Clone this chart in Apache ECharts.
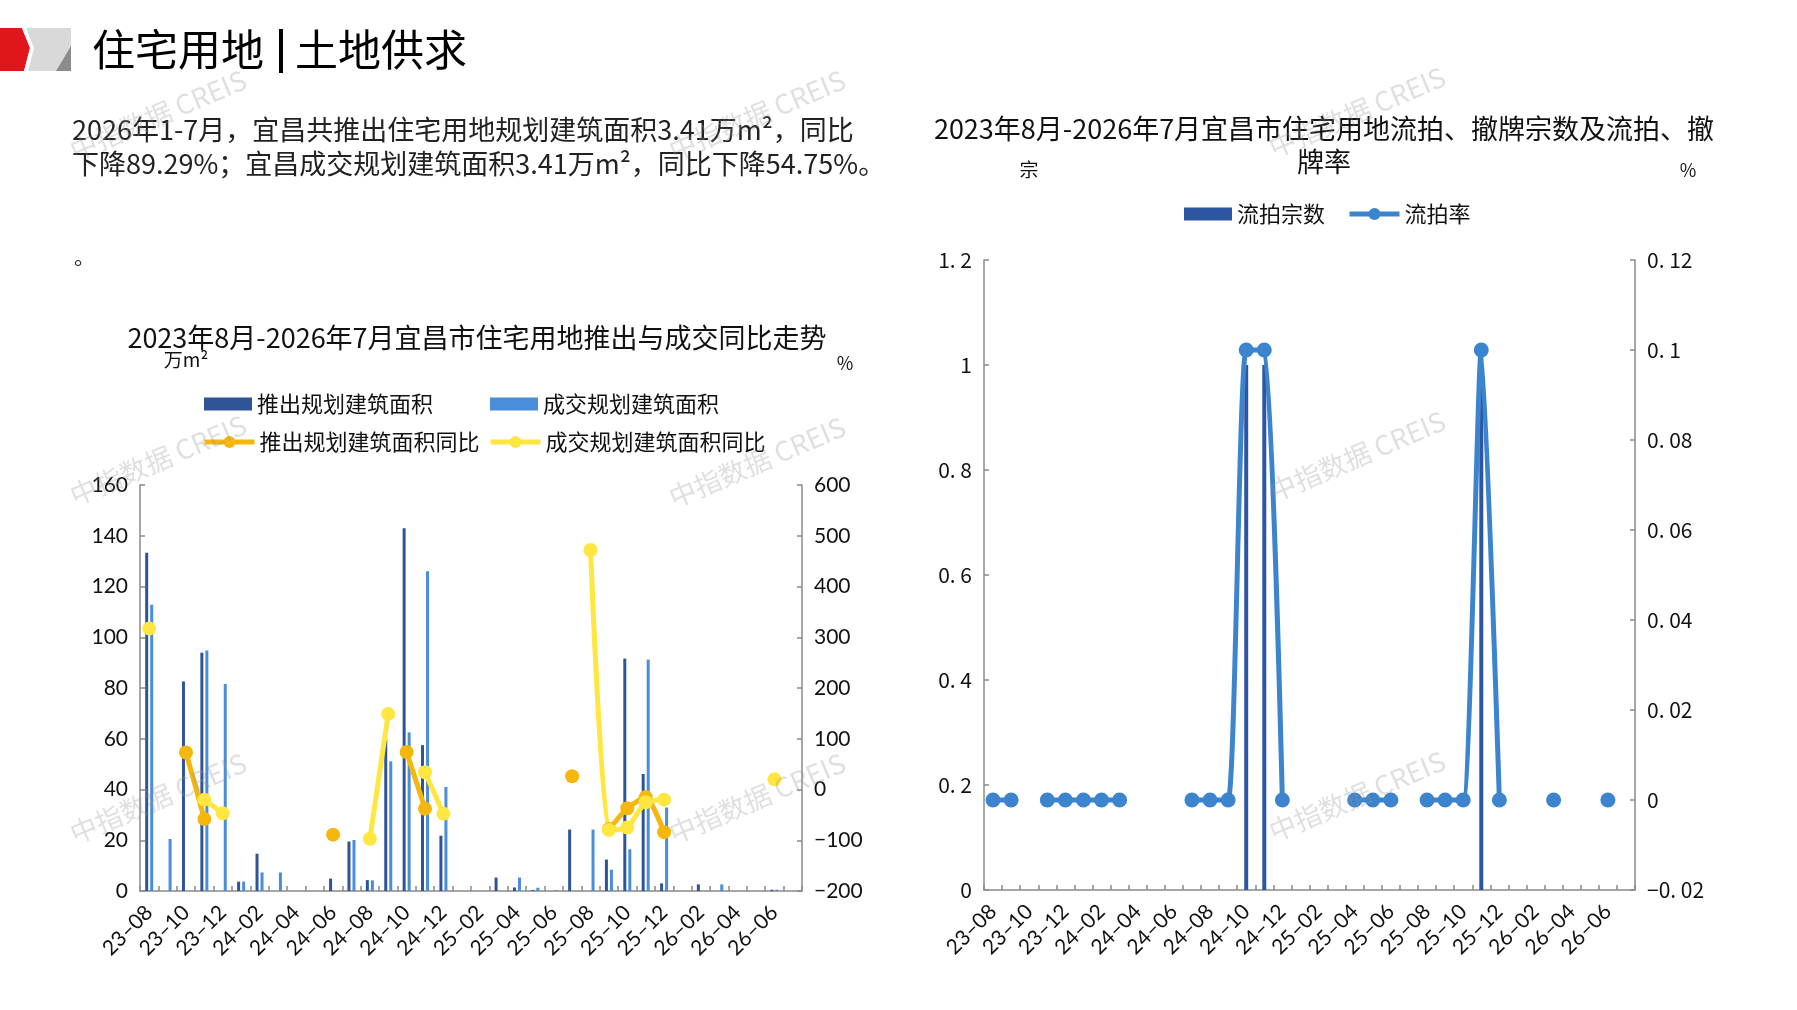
<!DOCTYPE html>
<html>
<head>
<meta charset="utf-8">
<script src="https://cdn.jsdelivr.net/npm/echarts@6/dist/echarts.min.js"></script>
<style>
html,body{margin:0;padding:0;background:#fff;}
#main{width:1797px;height:1010px;}
</style>
</head>
<body>
<div id="main"></div>
<script>
// ---------- data ----------
const categories = ['23-08','23-09','23-10','23-11','23-12','24-01','24-02','24-03','24-04','24-05','24-06','24-07',
  '24-08','24-09','24-10','24-11','24-12','25-01','25-02','25-03','25-04','25-05','25-06','25-07',
  '25-08','25-09','25-10','25-11','25-12','26-01','26-02','26-03','26-04','26-05','26-06','26-07'];

// 推出规划建筑面积 (万㎡)
const launchArea = [133.3, null, 82.6, 93.9, null, 3.7, 14.7, null, null, null, 4.9, 19.5,
  4.3, 60, 143, 57.5, 21.8, null, null, 5.3, 1.4, 0.4, null, 24.2,
  null, 12.4, 91.6, 46.1, 3.0, null, 2.6, null, null, null, 0.5, null];
// 成交规划建筑面积 (万㎡)
const dealArea = [112.8, 20.5, null, 94.8, 81.6, 3.7, 7.3, 7.3, null, null, null, 20.1,
  4.2, 51.1, 62.5, 126, 41, null, null, null, 5.3, 1.3, 0.4, null,
  24.2, 8.4, 16.4, 91.2, 32.9, null, null, 2.6, null, null, 0.5, null];
// 推出规划建筑面积同比 (%)
const launchYoY = [null, null, 73, -58, null, null, null, null, null, null, -89, null,
  null, null, 74, -38, null, null, null, null, null, null, null, 26,
  null, -78, -37, -15, -84, null, null, null, null, null, null, null];
// 成交规划建筑面积同比 (%)
const dealYoY = [317, null, null, -20, -47, null, null, null, null, null, null, null,
  -97, 149, null, 34, -48, null, null, null, null, null, null, null,
  472, -80, -75, -25, -20, null, null, null, null, null, 20, null];
// 流拍宗数 (宗)
const failCount = [null, null, null, null, null, null, null, null, null, null, null, null,
  null, null, 1, 1, null, null, null, null, null, null, null, null,
  null, null, null, 1, null, null, null, null, null, null, null, null];
// 流拍率 (%)
const failRate = [0, 0, null, 0, 0, 0, 0, 0, null, null, null, 0,
  0, 0, 0.1, 0.1, 0, null, null, null, 0, 0, 0, null,
  0, 0, 0, 0.1, 0, null, null, 0, null, null, 0, null];

// axis ranges (tick labels)
const areaAxis = {min: 0, max: 160, interval: 20};
const yoyAxis = {min: -200, max: 600, interval: 100};
const countAxis = {min: 0, max: 1.2, interval: 0.2};
const rateAxis = {min: -0.02, max: 0.12, interval: 0.02};

const paragraphLines = [
  '2026年1-7月，宜昌共推出住宅用地规划建筑面积3.41万m²，同比',
  '下降89.29%；宜昌成交规划建筑面积3.41万m²，同比下降54.75%。'
];

// ---------- chart ----------
const chart = echarts.init(document.getElementById('main'));
const CJK = '"Noto Sans CJK SC", "Noto Sans", sans-serif';
const NUM = 'Lato, "Noto Sans", sans-serif';
const axisGray = '#8a8a8a';

function minusFmt(v){ return String(v).replace('-', '−'); }
function decFmt(v){ let s = String(+(+v).toFixed(4)); return s.replace('-', '−').replace('.', '. '); }

const watermarkPos = [[158,115],[757,115],[1357,112],[158,460],[757,462],[1357,456],[158,798],[757,798],[1357,796]];
const watermarks = watermarkPos.map(p => ({
  type: 'text', x: p[0], y: p[1], rotation: 23 * Math.PI / 180, z: 100, silent: true,
  style: {text: '中指数据 CREIS', fill: 'rgba(150,150,150,0.30)', font: '27px ' + CJK, align: 'center', verticalAlign: 'middle'}
}));

function xAxisCommon(gridIndex){
  return {
    type: 'category', gridIndex: gridIndex, data: categories, boundaryGap: true,
    axisLine: {lineStyle: {color: axisGray, width: 1.5}},
    axisTick: {show: true, inside: true, length: 5, interval: 0, lineStyle: {color: axisGray, width: 1.5}},
    axisLabel: {interval: 1, rotate: 45, fontSize: 21, color: '#111', fontFamily: NUM, margin: 18,
      formatter: v => v.replace('-', '–')},
    splitLine: {show: false}
  };
}
function yAxisCommon(gridIndex, cfg, pos, fmt, font){
  return {
    type: 'value', gridIndex: gridIndex, position: pos, min: cfg.min, max: cfg.max, interval: cfg.interval,
    axisLine: {show: true, lineStyle: {color: axisGray, width: 1.5}},
    axisTick: {show: true, inside: true, length: 5, lineStyle: {color: axisGray, width: 1.5}},
    axisLabel: {fontSize: 21, color: '#111', fontFamily: font || NUM, formatter: fmt, margin: 12},
    splitLine: {show: false}
  };
}
const legendText = {fontSize: 22, color: '#111', fontFamily: CJK};
const lineLegend = (name, left, top) => ({
  data: [name], left: left, top: top, itemWidth: 50, itemHeight: 15,
  lineStyle: {width: 5}, textStyle: legendText
});

const option = {
  backgroundColor: '#fff',
  animation: false,
  textStyle: {fontFamily: CJK},
  title: [
    {text: '2023年8月-2026年7月宜昌市住宅用地推出与成交同比走势', left: 472, top: 317, textAlign: 'center',
      textStyle: {fontSize: 27, fontWeight: 'normal', color: '#111', fontFamily: CJK, lineHeight: 32}},
    {text: '2023年8月-2026年7月宜昌市住宅用地流拍、撤牌宗数及流拍、撤\n牌率', left: 1319, top: 107, textAlign: 'center',
      textStyle: {fontSize: 27, fontWeight: 'normal', color: '#111', fontFamily: CJK, lineHeight: 33}}
  ],
  legend: [
    {data: ['推出规划建筑面积'], left: 199, top: 388, icon: 'rect', itemWidth: 48, itemHeight: 13, textStyle: legendText},
    {data: ['成交规划建筑面积'], left: 485, top: 388, icon: 'rect', itemWidth: 48, itemHeight: 13, textStyle: legendText},
    lineLegend('推出规划建筑面积同比', 197, 426),
    lineLegend('成交规划建筑面积同比', 483, 426),
    {data: ['流拍宗数'], left: 1179, top: 198, icon: 'rect', itemWidth: 48, itemHeight: 13, textStyle: legendText},
    lineLegend('流拍率', 1342, 198)
  ],
  grid: [
    {left: 140, right: 995, top: 485, bottom: 119},
    {left: 984, right: 162, top: 260, bottom: 120}
  ],
  xAxis: [xAxisCommon(0), xAxisCommon(1)],
  yAxis: [
    yAxisCommon(0, areaAxis, 'left', minusFmt),
    yAxisCommon(0, yoyAxis, 'right', minusFmt),
    yAxisCommon(1, countAxis, 'left', decFmt, CJK),
    yAxisCommon(1, rateAxis, 'right', decFmt, CJK)
  ],
  series: [
    {name: '推出规划建筑面积', type: 'bar', xAxisIndex: 0, yAxisIndex: 0, data: launchArea,
      barWidth: 3, barGap: '67%', itemStyle: {color: '#2F5597'}},
    {name: '成交规划建筑面积', type: 'bar', xAxisIndex: 0, yAxisIndex: 0, data: dealArea,
      barWidth: 3, barGap: '67%', itemStyle: {color: '#4A8DD8'}},
    {name: '推出规划建筑面积同比', type: 'line', xAxisIndex: 0, yAxisIndex: 1, data: launchYoY,
      smooth: 0.2, showAllSymbol: true, symbol: 'circle', symbolSize: 14,
      lineStyle: {width: 5, color: '#F6B70C'}, itemStyle: {color: '#F6B70C'}},
    {name: '成交规划建筑面积同比', type: 'line', xAxisIndex: 0, yAxisIndex: 1, data: dealYoY,
      smooth: 0.2, showAllSymbol: true, symbol: 'circle', symbolSize: 14,
      lineStyle: {width: 5, color: '#FFE640'}, itemStyle: {color: '#FFE640'}},
    {name: '流拍宗数', type: 'bar', xAxisIndex: 1, yAxisIndex: 2, data: failCount,
      barWidth: 4, itemStyle: {color: '#2D56A2'}},
    {name: '流拍率', type: 'line', xAxisIndex: 1, yAxisIndex: 3, data: failRate,
      smooth: 0.2, showAllSymbol: true, symbol: 'circle', symbolSize: 15,
      lineStyle: {width: 5, color: '#3C84CE'}, itemStyle: {color: '#3C84CE'}}
  ],
  graphic: [
    // logo
    {type: 'polygon', shape: {points: [[22,28],[71,28],[71,71],[22,71]]}, style: {fill: '#d9d9d9'}},
    {type: 'polygon', shape: {points: [[71,46],[71,71],[56,71]]}, style: {fill: '#8c8c8c'}},
    {type: 'polygon', shape: {points: [[0,28],[22,28],[30,48],[24,71],[0,71]]}, style: {fill: '#e0161c'}},
    {type: 'polygon', shape: {points: [[22,28],[26,28],[34,48],[28,71],[24,71],[30,48]]}, style: {fill: '#ffffff'}},
    // main heading
    {type: 'text', x: 92, y: 50, style: {text: '住宅用地', font: '43px ' + CJK, fill: '#000', verticalAlign: 'middle'}},
    {type: 'rect', shape: {x: 279, y: 29, width: 4, height: 44}, style: {fill: '#000'}},
    {type: 'text', x: 295, y: 50, style: {text: '土地供求', font: '43px ' + CJK, fill: '#000', verticalAlign: 'middle'}},
    // paragraph
    {type: 'text', x: 72, y: 130, style: {text: paragraphLines[0], font: '27px ' + CJK, fill: '#222', verticalAlign: 'middle'}},
    {type: 'text', x: 72, y: 164, style: {text: paragraphLines[1], font: '27px ' + CJK, fill: '#222', verticalAlign: 'middle'}},
    {type: 'text', x: 74, y: 256, style: {text: '。', font: '21px ' + CJK, fill: '#222', verticalAlign: 'middle'}},
    // unit labels
    {type: 'text', x: 186, y: 360, style: {text: '万m²', font: '19px ' + CJK, fill: '#111', align: 'center', verticalAlign: 'middle'}},
    {type: 'text', x: 845, y: 363, style: {text: '%', font: '18px ' + CJK, fill: '#111', align: 'center', verticalAlign: 'middle'}},
    {type: 'text', x: 1029, y: 170, style: {text: '宗', font: '19px ' + CJK, fill: '#111', align: 'center', verticalAlign: 'middle'}},
    {type: 'text', x: 1688, y: 170, style: {text: '%', font: '18px ' + CJK, fill: '#111', align: 'center', verticalAlign: 'middle'}}
  ].concat(watermarks)
};
chart.setOption(option);
</script>
</body>
</html>
